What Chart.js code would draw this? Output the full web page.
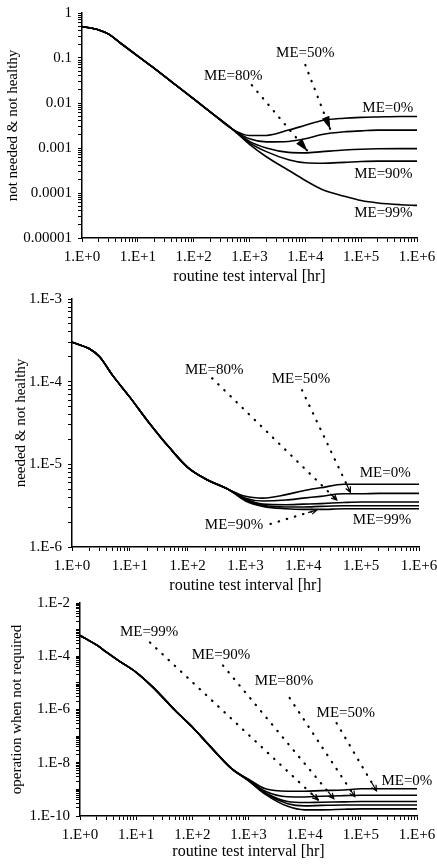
<!DOCTYPE html>
<html>
<head>
<meta charset="utf-8">
<script src="https://cdn.jsdelivr.net/npm/chart.js@4.4.1/dist/chart.umd.min.js"></script>
<style>
  html, body { margin: 0; padding: 0; background: #fff; }
  body { width: 437px; height: 865px; position: relative; overflow: hidden; }
  .panel { position: absolute; left: 0; width: 437px; }
  .panel canvas { display: block; }
</style>
</head>
<body>
<div class="panel" style="top:0px;height:290px"><canvas id="c1" width="437" height="290"></canvas></div>
<div class="panel" style="top:290px;height:309px"><canvas id="c2" width="437" height="309"></canvas></div>
<div class="panel" style="top:590px;height:275px"><canvas id="c3" width="437" height="275"></canvas></div>
<script>
// shared x values: the common descending part, then the branches per maintenance efficiency
const X_HEAD = [1, 2, 3, 5, 10, 20, 50, 100, 200, 500];
const X_TAIL = [500, 1e3, 2e3, 5e3, 1e4, 2e4, 5e4, 1e5, 2e5, 5e5, 1e6];
const X_LABELS = { 0: '1.E+0', 1: '1.E+1', 2: '1.E+2', 3: '1.E+3', 4: '1.E+4', 5: '1.E+5', 6: '1.E+6' };
const X_TITLE = 'routine test interval [hr]';

// panel 1: not needed & not healthy
const P1_HEAD = [0.5, 0.42, 0.34, 0.21, 0.11, 0.058, 0.024, 0.0123, 0.0063, 0.0026];
const P1_ME0  = [0.0026, 0.0019, 0.0019, 0.0025, 0.0032, 0.0041, 0.0046, 0.0048, 0.0049, 0.005, 0.005];
const P1_ME50 = [0.0026, 0.0016, 0.00137, 0.0014, 0.0016, 0.002, 0.0023, 0.0024, 0.0025, 0.0025, 0.0025];
const P1_ME80 = [0.0026, 0.0014, 0.001, 0.0008, 0.00078, 0.00083, 0.0009, 0.00094, 0.00096, 0.00097, 0.00097];
const P1_ME90 = [0.0026, 0.0013, 0.00083, 0.00055, 0.00047, 0.00046, 0.00048, 0.0005, 0.00051, 0.00051, 0.00051];
const P1_ME99 = [0.0026, 0.0012, 0.00064, 0.00032, 0.00019, 0.00012, 8.5e-5, 6.8e-5, 6e-5, 5.5e-5, 5.3e-5];
const P1_YLABELS = { '-5': '0.00001', '-4': '0.0001', '-3': '0.001', '-2': '0.01', '-1': '0.1', '0': '1' };
const P1_NOTES = [['ME=50%', 1e4, 0.13], ['ME=80%', 510, 0.04], ['ME=0%', 3e5, 0.0078],
                  ['ME=90%', 2.5e5, 2.6e-4], ['ME=99%', 2.5e5, 3.6e-5]];
const P1_POINTERS = [[1e4, 0.07, 2.8e4, 0.0026], [1.1e3, 0.025, 1.1e4, 8.5e-4]];

// panel 2: needed & not healthy
const P2_HEAD = [3.0e-4, 2.5e-4, 2.0e-4, 1.2e-4, 6.5e-5, 3.4e-5, 1.55e-5, 9.2e-6, 6.7e-6, 5.0e-6];
const P2_ME0  = [5.0e-6, 4.1e-6, 3.9e-6, 4.3e-6, 4.8e-6, 5.2e-6, 5.75e-6, 5.75e-6, 5.75e-6, 5.75e-6, 5.75e-6];
const P2_ME50 = [5.0e-6, 3.9e-6, 3.6e-6, 3.7e-6, 3.9e-6, 4.1e-6, 4.4e-6, 4.4e-6, 4.45e-6, 4.45e-6, 4.45e-6];
const P2_ME80 = [5.0e-6, 3.8e-6, 3.3e-6, 3.25e-6, 3.3e-6, 3.35e-6, 3.45e-6, 3.5e-6, 3.5e-6, 3.5e-6, 3.5e-6];
const P2_ME90 = [5.0e-6, 3.7e-6, 3.2e-6, 3.05e-6, 3.05e-6, 3.1e-6, 3.15e-6, 3.15e-6, 3.15e-6, 3.15e-6, 3.15e-6];
const P2_ME99 = [5.0e-6, 3.6e-6, 3.1e-6, 2.9e-6, 2.85e-6, 2.85e-6, 2.9e-6, 2.9e-6, 2.9e-6, 2.9e-6, 2.9e-6];
const P2_YLABELS = { '-6': '1.E-6', '-5': '1.E-5', '-4': '1.E-4', '-3': '1.E-3' };
const P2_NOTES = [['ME=80%', 288, 1.39e-4], ['ME=50%', 9.1e3, 1.07e-4], ['ME=0%', 2.6e5, 7.9e-6],
                  ['ME=90%', 634, 1.86e-6], ['ME=99%', 2.3e5, 2.1e-6]];
const P2_POINTERS = [[265, 1.1e-4, 3.8e4, 3.7e-6], [9.5e3, 7.9e-5, 6.5e4, 4.6e-6], [2.7e3, 1.9e-6, 1.7e4, 2.8e-6]];

// panel 3: operation when not required
const P3_HEAD = [6e-4, 2.6e-4, 1.4e-4, 6.6e-5, 2.5e-5, 6.8e-6, 9e-7, 2.2e-7, 4.5e-8, 6e-9];
const P3_ME0  = [6e-9, 2.4e-9, 1.05e-9, 8.5e-10, 8.5e-10, 9e-10, 9.5e-10, 1.05e-9, 1.05e-9, 1.05e-9, 1.05e-9];
const P3_ME50 = [6e-9, 2.3e-9, 8.5e-10, 5.3e-10, 5.2e-10, 5.5e-10, 5.8e-10, 6e-10, 6e-10, 6e-10, 6e-10];
const P3_ME80 = [6e-9, 2.2e-9, 7.5e-10, 3.5e-10, 3.2e-10, 3.3e-10, 3.4e-10, 3.5e-10, 3.5e-10, 3.5e-10, 3.5e-10];
const P3_ME90 = [6e-9, 2.2e-9, 7e-10, 2.9e-10, 2.4e-10, 2.5e-10, 2.6e-10, 2.6e-10, 2.6e-10, 2.6e-10, 2.6e-10];
const P3_ME99 = [6e-9, 2.1e-9, 6.5e-10, 2.3e-10, 1.7e-10, 1.7e-10, 1.8e-10, 1.85e-10, 1.85e-10, 1.85e-10, 1.85e-10];
const P3_YLABELS = { '-10': '1.E-10', '-8': '1.E-8', '-6': '1.E-6', '-4': '1.E-4', '-2': '1.E-2' };
const P3_NOTES = [['ME=99%', 17, 7.9e-4], ['ME=90%', 323, 1.07e-4], ['ME=80%', 4.3e3, 1.2e-5],
                  ['ME=50%', 5.4e4, 7.4e-7], ['ME=0%', 6.6e5, 2e-9]];
const P3_POINTERS = [[17.6, 3.3e-4, 1.72e4, 4.1e-10], [351, 4.5e-5, 3.3e4, 4.5e-10],
                     [5.4e3, 2.7e-6, 7.8e4, 5.4e-10], [3.7e4, 3.1e-7, 1.9e5, 8.9e-10]];

const SERIF = '"Liberation Serif", "Times New Roman", serif';

// each ME curve runs the common head and then its own tail (shared point at 500 h)
function fullCurve(head, tail) {
  var xs = X_HEAD.concat(X_TAIL.slice(1));
  var ys = head.concat(tail.slice(1));
  return xs.map(function(x, i) { return { x: x, y: ys[i] }; });
}

function curve(head, tail) {
  return {
    data: fullCurve(head, tail),
    borderColor: '#000', borderWidth: 1.6,
    pointRadius: 0, cubicInterpolationMode: 'monotone', fill: false,
  };
}

function pointer(p, kind) {
  return {
    data: [{ x: p[0], y: p[1] }, { x: p[2], y: p[3] }],
    borderColor: '#000', borderWidth: 2.2,
    borderDash: [0.5, 8], borderCapStyle: 'round',
    pointRadius: 0, fill: false, pointer: kind,
  };
}

// ticks at 1..9 x 10^e, majors carry the labels
function logTicks(minExp, maxExp) {
  var out = [];
  for (var e = minExp; e <= maxExp; e++) {
    for (var m = 1; m <= 9; m++) {
      if (e === maxExp && m > 1) break;
      out.push({ value: parseFloat((m * Math.pow(10, e)).toPrecision(3)), major: m === 1, exp: e });
    }
  }
  return out;
}

var notesPlugin = {
  id: 'notes',
  afterDatasetsDraw: function(chart, args, opts) {
    var ctx = chart.ctx;
    var xs = chart.scales.x, ys = chart.scales.y;
    ctx.save();
    ctx.fillStyle = '#000';
    ctx.strokeStyle = '#000';
    chart.data.datasets.forEach(function(ds, i) {
      if (!ds.pointer) return;
      var pts = chart.getDatasetMeta(i).data;
      var a = pts[0], b = pts[pts.length - 1];
      var ang = Math.atan2(b.y - a.y, b.x - a.x);
      ctx.setLineDash([]);
      if (ds.pointer === 'filled') {
        var L = 13, W = 4;
        ctx.beginPath();
        ctx.moveTo(b.x, b.y);
        ctx.lineTo(b.x - L * Math.cos(ang) + W * Math.sin(ang), b.y - L * Math.sin(ang) - W * Math.cos(ang));
        ctx.lineTo(b.x - L * Math.cos(ang) - W * Math.sin(ang), b.y - L * Math.sin(ang) + W * Math.cos(ang));
        ctx.closePath();
        ctx.fill();
      } else {
        ctx.lineWidth = 1.2;
        ctx.beginPath();
        ctx.moveTo(b.x - 9 * Math.cos(ang), b.y - 9 * Math.sin(ang));
        ctx.lineTo(b.x, b.y);
        ctx.moveTo(b.x - 6 * Math.cos(ang - 0.45), b.y - 6 * Math.sin(ang - 0.45));
        ctx.lineTo(b.x, b.y);
        ctx.lineTo(b.x - 6 * Math.cos(ang + 0.45), b.y - 6 * Math.sin(ang + 0.45));
        ctx.stroke();
      }
    });
    ctx.font = '15px ' + SERIF;
    ctx.textAlign = 'center';
    ctx.textBaseline = 'middle';
    (opts.labels || []).forEach(function(l) {
      ctx.fillText(l[0], xs.getPixelForValue(l[1]), ys.getPixelForValue(l[2]));
    });
    ctx.restore();
  },
};

function makePanel(id, cfg) {
  var datasets = cfg.tails.map(function(t) { return curve(cfg.head, t); });
  cfg.pointers.forEach(function(p) { datasets.push(pointer(p, cfg.arrow)); });

  var tickFont = { family: SERIF, size: 15 };
  var titleFont = { family: SERIF, size: 16 };

  return new Chart(document.getElementById(id), {
    type: 'line',
    data: { datasets: datasets },
    plugins: [notesPlugin],
    options: {
      responsive: false,
      animation: false,
      devicePixelRatio: 1,
      layout: { padding: cfg.padding },
      scales: {
        x: {
          type: 'logarithmic', min: 1, max: 1e6,
          afterBuildTicks: function(s) { s.ticks = logTicks(0, 6); },
          // fixed box so the plot area lands where the original has it
          afterFit: function(s) { s.height = cfg.xHeight; s.paddingLeft = 0; s.paddingRight = 0; },
          border: { display: true, color: '#000', width: 1.5 },
          grid: { drawOnChartArea: false, drawTicks: true, tickLength: 4, color: '#000', lineWidth: 1 },
          ticks: {
            autoSkip: false, maxRotation: 0, minRotation: 0, padding: 6,
            color: '#000', font: tickFont,
            callback: function(v, i, ticks) { return ticks[i].major ? X_LABELS[ticks[i].exp] : ''; },
          },
          title: { display: true, text: X_TITLE, color: '#000', font: titleFont, padding: { top: 2, bottom: 4 } },
        },
        y: {
          type: 'logarithmic', min: Math.pow(10, cfg.yMin), max: Math.pow(10, cfg.yMax),
          afterBuildTicks: function(s) { s.ticks = logTicks(cfg.yMin, cfg.yMax); },
          afterFit: function(s) { s.width = cfg.yWidth; s.paddingTop = 0; s.paddingBottom = 0; },
          border: { display: true, color: '#000', width: 1.5 },
          grid: { drawOnChartArea: false, drawTicks: true, tickLength: 4, color: '#000', lineWidth: 1 },
          ticks: {
            autoSkip: false, padding: 6, color: '#000', font: tickFont,
            callback: function(v, i, ticks) {
              var t = ticks[i];
              return (t.major && cfg.yLabels[t.exp] !== undefined) ? cfg.yLabels[t.exp] : '';
            },
          },
          title: { display: true, text: cfg.yTitle, color: '#000', font: { family: SERIF, size: 15 }, padding: { top: 4, bottom: 2 } },
        },
      },
      plugins: {
        legend: { display: false },
        tooltip: { enabled: false },
        notes: { labels: cfg.notes },
      },
    },
  });
}

makePanel('c1', {
  head: P1_HEAD, tails: [P1_ME0, P1_ME50, P1_ME80, P1_ME90, P1_ME99],
  pointers: P1_POINTERS, arrow: 'filled', notes: P1_NOTES,
  yMin: -5, yMax: 0, yLabels: P1_YLABELS, yTitle: 'not needed & not healthy',
  padding: { left: 0, top: 13, right: 20, bottom: 0 }, yWidth: 82, xHeight: 52,
});

makePanel('c2', {
  head: P2_HEAD, tails: [P2_ME0, P2_ME50, P2_ME80, P2_ME90, P2_ME99],
  pointers: P2_POINTERS, arrow: 'open', notes: P2_NOTES,
  yMin: -6, yMax: -3, yLabels: P2_YLABELS, yTitle: 'needed & not healthy',
  padding: { left: 8, top: 9, right: 18, bottom: 0 }, yWidth: 64, xHeight: 52,
});

makePanel('c3', {
  head: P3_HEAD, tails: [P3_ME0, P3_ME50, P3_ME80, P3_ME90, P3_ME99],
  pointers: P3_POINTERS, arrow: 'open', notes: P3_NOTES,
  yMin: -10, yMax: -2, yLabels: P3_YLABELS, yTitle: 'operation when not required',
  padding: { left: 4, top: 13, right: 20, bottom: 0 }, yWidth: 76, xHeight: 49,
});
</script>
</body>
</html>
